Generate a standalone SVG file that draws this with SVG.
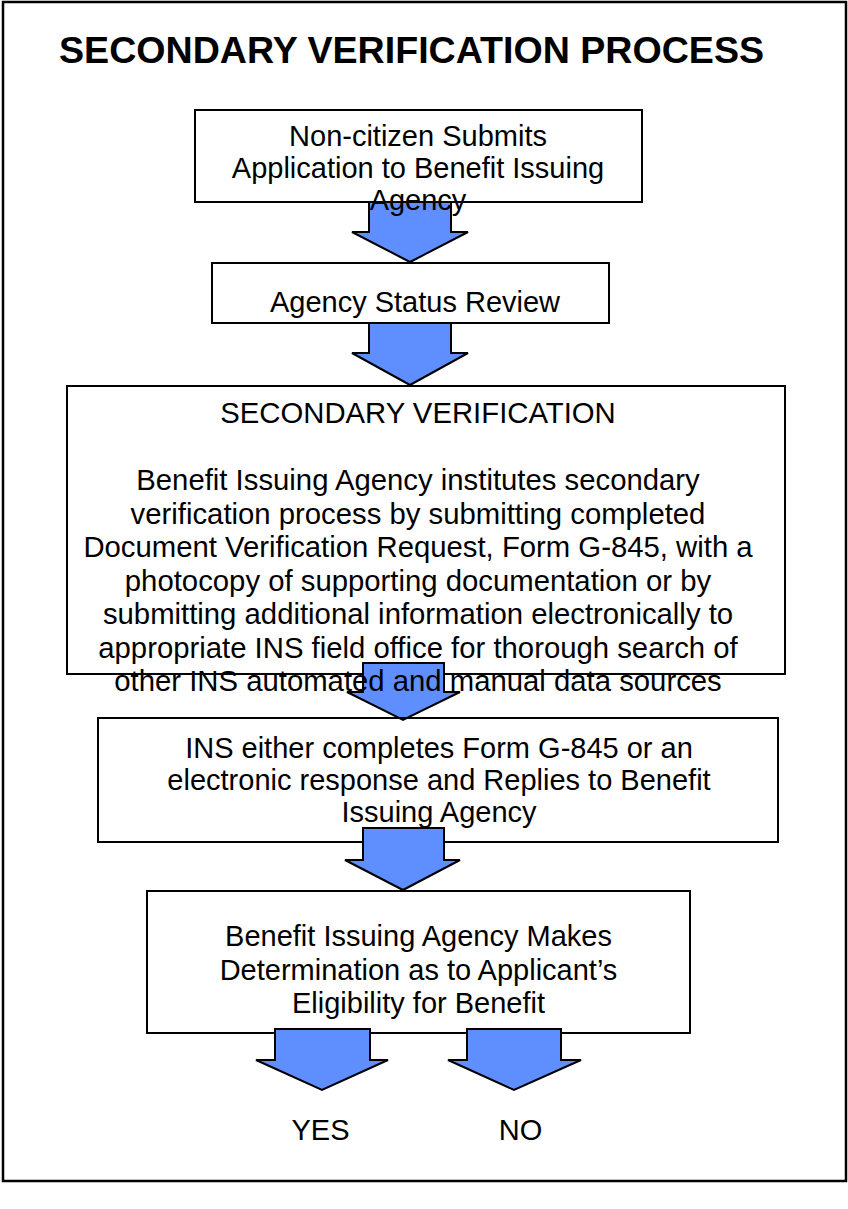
<svg xmlns="http://www.w3.org/2000/svg" width="848" height="1209" viewBox="0 0 848 1209">
<style>
.box{fill:none;stroke:#000;stroke-width:2}
.arr{fill:#5F8EFF;stroke:#000;stroke-width:2;stroke-linejoin:miter}
text{font-family:"Liberation Sans",Arial,sans-serif;font-size:29px;fill:#000;text-anchor:middle}
.title{font-size:37.6px;font-weight:bold;text-anchor:start}
.wide{font-size:29.3px}
</style>
<defs>
<mask id="under-arrows" maskUnits="userSpaceOnUse" x="0" y="0" width="848" height="1209">
<rect x="0" y="0" width="848" height="1209" fill="#fff"/>
<rect x="364" y="664" width="79" height="15" fill="#000"/>
<rect x="364" y="829" width="79" height="20" fill="#000"/>
<rect x="276" y="1030" width="93" height="8" fill="#000"/>
<rect x="468" y="1030" width="92" height="8" fill="#000"/>
</mask>
</defs>
<rect x="0" y="0" width="848" height="1209" fill="#fff"/>
<rect x="3" y="2" width="843" height="1179" fill="none" stroke="#000" stroke-width="2.5"/>
<text class="title" x="59" y="63">SECONDARY VERIFICATION PROCESS</text>
<g id="connectors">
<path class="arr" d="M369,202 H451 V232 H468 L410,262 L352,232 H369 Z"/>
<path class="arr" d="M369,323 H451 V353 H468 L410,385 L352,353 H369 Z"/>
<path class="arr" d="M363,663 H444 V692 H460 L403,720 L347,692 H363 Z"/>
<path class="arr" d="M363,828 H444 V860 H460 L403,890 L345,860 H363 Z"/>
<path class="arr" d="M275,1029 H370 V1060 H388 L322,1090 L256,1060 H275 Z"/>
<path class="arr" d="M467,1029 H561 V1060 H581 L514,1090 L448,1060 H467 Z"/>
</g>
<g id="node-submit">
<rect class="box" x="195" y="110" width="447" height="92"/>
<text x="418" y="146">Non-citizen Submits</text>
<text x="418" y="178">Application to Benefit Issuing</text>
<text x="418" y="210">Agency</text>
</g>
<g id="node-review">
<rect class="box" x="212" y="263" width="397" height="60"/>
<text x="415" y="312">Agency Status Review</text>
</g>
<g id="node-secondary">
<rect class="box" x="67" y="386" width="718" height="288" mask="url(#under-arrows)"/>
<text class="wide" x="418" y="423">SECONDARY VERIFICATION</text>
<text class="wide" x="418" y="490">Benefit Issuing Agency institutes secondary</text>
<text class="wide" x="418" y="523.5">verification process by submitting completed</text>
<text class="wide" x="418" y="557">Document Verification Request, Form G-845, with a</text>
<text class="wide" x="418" y="590.5">photocopy of supporting documentation or by</text>
<text class="wide" x="418" y="624">submitting additional information electronically to</text>
<text class="wide" x="418" y="657.5">appropriate INS field office for thorough search of</text>
<text class="wide" x="418" y="691">other INS automated and manual data sources</text>
</g>
<g id="node-ins">
<rect class="box" x="98" y="718" width="680" height="124" mask="url(#under-arrows)"/>
<text x="439" y="758">INS either completes Form G-845 or an</text>
<text x="439" y="790">electronic response and Replies to Benefit</text>
<text x="439" y="822">Issuing Agency</text>
</g>
<g id="node-determination">
<rect class="box" x="147" y="891" width="543" height="142" mask="url(#under-arrows)"/>
<text x="418.5" y="946">Benefit Issuing Agency Makes</text>
<text x="418.5" y="979.5">Determination as to Applicant’s</text>
<text x="418.5" y="1013">Eligibility for Benefit</text>
</g>
<g id="node-yes">
<text x="320.5" y="1140">YES</text>
</g>
<g id="node-no">
<text x="520.5" y="1140">NO</text>
</g>
</svg>
